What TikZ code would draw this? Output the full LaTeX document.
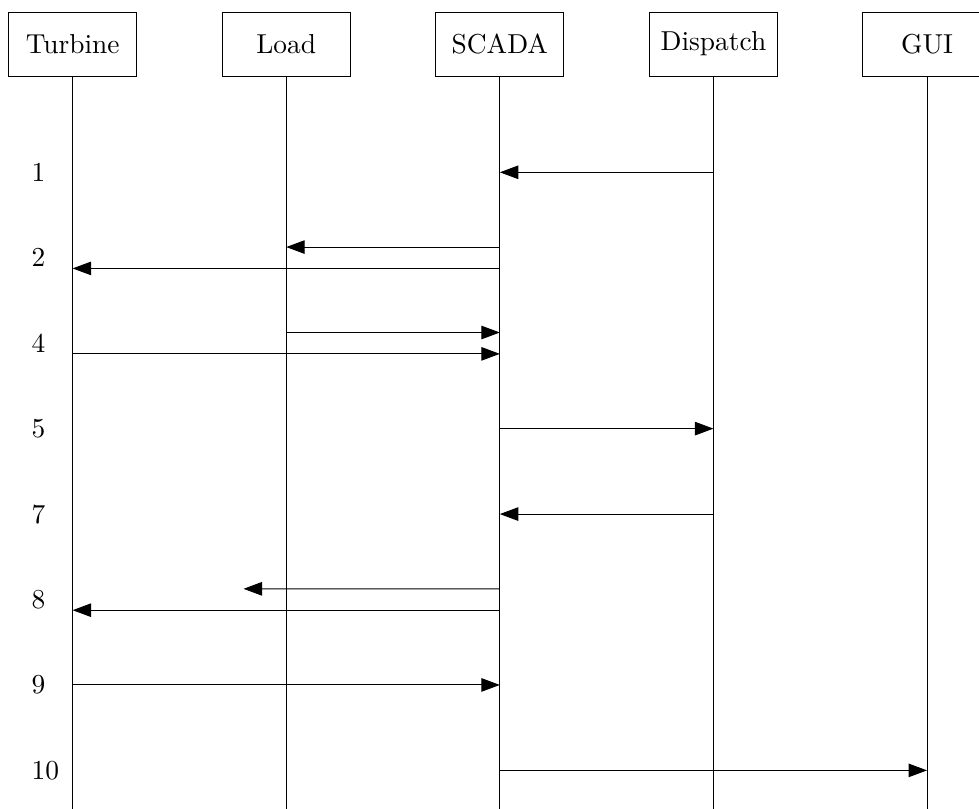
\documentclass[tikz,border=0pt]{standalone}
\usetikzlibrary{positioning}
\usetikzlibrary{calc}
\usetikzlibrary{arrows.meta}

\begin{document}
\begin{tikzpicture}[every node/.style={font=\fontsize{10.95}{13.6}\selectfont}, box/.style={draw, minimum width=1.8cm, minimum height=0.9cm}, num/.style={anchor=west}, msg/.style={-{Triangle[length=2.6mm, width=1.9mm]}}]
        \useasboundingbox (-1.02, 0.62) rectangle (12.73, -10.73);
        \node[box] (tur) at (0, 0) {Turbine};
        \node[box] (loa) at (3, 0) {Load};
        \node[box] (sca) at (6, 0) {SCADA};
        \node[box] (dis) at (9, 0) {Dispatch};
        \node[box] (gui) at (12, 0) {GUI};
        \coordinate (end) at (0, -10.8);

        \draw (tur) -- (tur |- end);
        \draw (loa) -- (loa |- end);
        \draw (sca) -- (sca |- end);
        \draw (dis) -- (dis |- end);
        \draw (gui) -- (gui |- end);

        \node[num] (r1) at (-0.7, -1.8) {1};
        \node[num] (r2) at (-0.7, -3.0) {2};
        \node[num] (r4) at (-0.7, -4.2) {4};
        \node[num] (r5) at (-0.7, -5.4) {5};
        \node[num] (r7) at (-0.7, -6.6) {7};
        \node[num] (r8) at (-0.7, -7.8) {8};
        \node[num] (r9) at (-0.7, -9.0) {9};
        \node[num] (r10) at (-0.7, -10.2) {10};
        \coordinate (cut) at (2.4, -7.65);

        \draw[msg] (dis |- r1) -- (sca |- r1);
        \draw[msg] ($(sca |- r2)+(0, .15)$) -- ($(loa |- r2)+(0, .15)$);
        \draw[msg] ($(sca |- r2)-(0, .15)$) -- ($(tur |- r2)-(0, .15)$);
        \draw[msg] ($(loa |- r4)+(0, .15)$) -- ($(sca |- r4)+(0, .15)$);
        \draw[msg] ($(tur |- r4)-(0, .15)$) -- ($(sca |- r4)-(0, .15)$);
        \draw[msg] (sca |- r5) -- (dis |- r5);
        \draw[msg] (dis |- r7) -- (sca |- r7);
        \draw[msg] ($(sca |- r8)+(0, .15)$) -- (cut);
        \draw[msg] ($(sca |- r8)-(0, .15)$) -- ($(tur |- r8)-(0, .15)$);
        \draw[msg] (tur |- r9) -- (sca |- r9);
        \draw[msg] (sca |- r10) -- (gui |- r10);
\end{tikzpicture}
\end{document}
